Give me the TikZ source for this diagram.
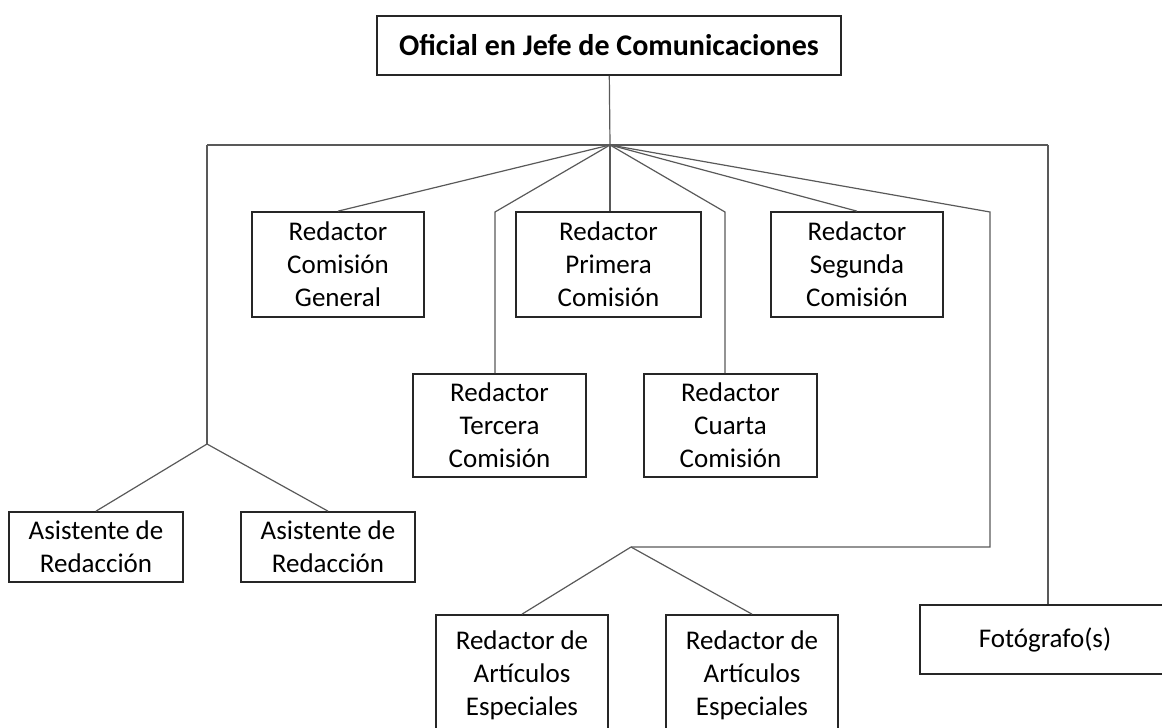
\documentclass[tikz,border=0pt]{standalone}
\usepackage{fontspec}
\setmainfont{Carlito}
\tikzset{
	caja/.style={draw=black!85,line width=1.7pt,align=center,inner sep=0pt,font=\fontsize{27}{33}\selectfont},
	linea/.style={draw=black!65,line width=1.2pt}
}
\begin{document}
\begin{tikzpicture}[x=1pt,y=-1pt]
		\clip (0,0) rectangle (1162,728);
		\node[caja,minimum width=464pt,minimum height=59pt,font=\fontsize{30}{33}\selectfont\bfseries] (jefe) at (609,45.5) {Oficial en Jefe de Comunicaciones};
		\node[caja,minimum width=172pt,minimum height=105pt] (cg) at (338,264.5) {Redactor\\Comisión\\General};
		\node[caja,minimum width=185pt,minimum height=105pt] (pri) at (608.5,264.5) {Redactor\\Primera\\Comisión};
		\node[caja,minimum width=172pt,minimum height=105pt] (seg) at (857,264.5) {Redactor\\Segunda\\Comisión};
		\node[caja,minimum width=173pt,minimum height=103pt] (ter) at (499.5,425.5) {Redactor\\Tercera\\Comisión};
		\node[caja,minimum width=173pt,minimum height=103pt] (cua) at (730.5,425.5) {Redactor\\Cuarta\\Comisión};
		\node[caja,minimum width=174pt,minimum height=70pt] (asi1) at (96,547) {Asistente de\\Redacción};
		\node[caja,minimum width=174pt,minimum height=70pt] (asi2) at (328,547) {Asistente de\\Redacción};
		\node[caja,minimum width=172pt,minimum height=120pt] (esp1) at (522,675) {Redactor de\\Artículos\\Especiales};
		\node[caja,minimum width=172pt,minimum height=120pt] (esp2) at (752,675) {Redactor de\\Artículos\\Especiales};
		\node[caja,minimum width=250pt,minimum height=69pt] (foto) at (1045,639.5) {Fotógrafo(s)};
		% puntos de quiebre
		\coordinate (hub) at (610,145);
		\coordinate (izq) at (207,145);
		\coordinate (der) at (1048,145);
		\coordinate (asi) at (207,444);
		\coordinate (terq) at (495,212);
		\coordinate (cuaq) at (725,212);
		\coordinate (espq) at (990,212);
		\coordinate (espc) at (990,547);
		\coordinate (esp) at (631,547);
		\draw[linea] (jefe) -- (hub);
		\draw[linea] (izq) -- (der);
		\draw[linea] (hub) -- (cg.north);
		\draw[linea] (hub) -- (terq) -- (terq |- ter.north);
		\draw[linea] (hub) -- (hub |- pri.north);
		\draw[linea] (hub) -- (cuaq) -- (cuaq |- cua.north);
		\draw[linea] (hub) -- (seg.north);
		\draw[linea] (hub) -- (espq) -- (espc) -- (esp);
		\draw[linea] (esp) -- (esp1.north);
		\draw[linea] (esp) -- (esp2.north);
		\draw[linea] (izq) -- (asi);
		\draw[linea] (asi) -- (asi1.north);
		\draw[linea] (asi) -- (asi2.north);
		\draw[linea] (der) -- (der |- foto.north);
	\end{tikzpicture}
\end{document}
